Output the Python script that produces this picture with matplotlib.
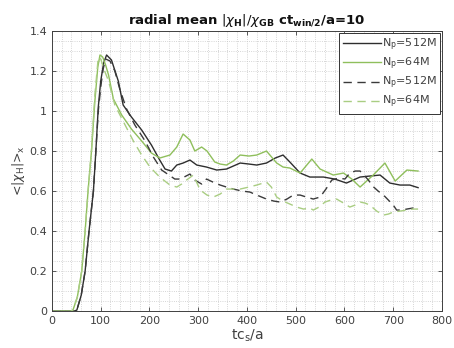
import matplotlib
matplotlib.use("Agg")
import matplotlib.pyplot as plt
from matplotlib.ticker import MultipleLocator

plt.rcParams['mathtext.fontset'] = 'dejavusans'
plt.rcParams['font.family'] = ['DejaVu Sans']

# N_p=512M, solid
x_bs = [0, 45, 51, 60, 68, 76, 85, 90, 95, 100, 106, 112, 122, 136, 146, 163, 184, 204, 221, 232,
        245, 256, 269, 283, 297, 317, 338, 358, 372, 386, 404, 420, 440, 458, 474, 488, 509, 529,
        557, 580, 604, 632, 652, 673, 693, 714, 734, 751]
y_bs = [0, 0, 0.005, 0.08, 0.2, 0.4, 0.6, 0.8, 1.02, 1.15, 1.24, 1.28, 1.255, 1.15, 1.03, 0.97,
        0.905, 0.83, 0.755, 0.71, 0.70, 0.73, 0.74, 0.755, 0.73, 0.72, 0.705, 0.71, 0.725, 0.74,
        0.735, 0.73, 0.74, 0.765, 0.78, 0.745, 0.69, 0.67, 0.67, 0.66, 0.64, 0.67, 0.675, 0.68,
        0.64, 0.63, 0.63, 0.617]

# N_p=64M, solid
x_gs = [0, 38, 43, 52, 61, 68, 74, 81, 88, 94, 98.5, 104, 110, 116, 126, 143, 163, 184, 204, 221,
        242, 256, 269, 283, 293, 307, 318, 334, 345, 358, 372, 386, 404, 420, 440, 461, 474, 488,
        509, 533, 550, 577, 598, 615, 632, 659, 683, 704, 728, 751]
y_gs = [0, 0, 0.005, 0.07, 0.2, 0.4, 0.6, 0.8, 1.05, 1.22, 1.28, 1.27, 1.23, 1.18, 1.06, 0.98,
        0.91, 0.85, 0.79, 0.765, 0.78, 0.82, 0.885, 0.855, 0.80, 0.82, 0.80, 0.745, 0.735, 0.73,
        0.75, 0.78, 0.775, 0.78, 0.80, 0.74, 0.72, 0.715, 0.69, 0.76, 0.71, 0.68, 0.69, 0.66, 0.62,
        0.68, 0.74, 0.65, 0.705, 0.70]

# N_p=512M, dashed
x_bd = [0, 45, 51, 60, 68, 76, 85, 90, 95, 100, 105, 110, 119, 129, 139, 153, 170, 191, 208, 225,
        240, 252, 263, 275, 283, 293, 307, 317, 330, 345, 358, 372, 390, 406, 420, 440, 455, 468,
        482, 495, 509, 522, 536, 550, 562, 574, 588, 601, 611, 622, 632, 640, 649, 660, 669, 680,
        690, 700, 707, 718, 728, 740, 751]
y_bd = [0, 0, 0.005, 0.08, 0.2, 0.4, 0.6, 0.8, 1.0, 1.12, 1.21, 1.26, 1.25, 1.2, 1.11, 1.01, 0.93,
        0.85, 0.77, 0.705, 0.68, 0.66, 0.66, 0.675, 0.685, 0.655, 0.635, 0.66, 0.645, 0.63, 0.62,
        0.61, 0.60, 0.595, 0.58, 0.56, 0.55, 0.545, 0.56, 0.58, 0.58, 0.57, 0.56, 0.57, 0.61,
        0.655, 0.665, 0.66, 0.69, 0.70, 0.70, 0.68, 0.655, 0.62, 0.60, 0.58, 0.555, 0.53, 0.505,
        0.505, 0.51, 0.515, 0.515]

# N_p=64M, dashed
x_gd = [0, 38, 43, 52, 61, 68, 74, 81, 88, 95, 100, 108, 116, 129, 150, 167, 184, 201, 221, 242,
        256, 266, 276, 290, 304, 318, 331, 345, 358, 372, 386, 404, 420, 440, 450, 461, 474, 488,
        502, 516, 529, 536, 548, 560, 572, 584, 598, 611, 622, 632, 642, 652, 666, 680, 690, 700,
        714, 728, 740, 751]
y_gd = [0, 0, 0.005, 0.07, 0.2, 0.4, 0.6, 0.8, 1.08, 1.27, 1.26, 1.2, 1.15, 1.03, 0.93, 0.85, 0.78,
        0.72, 0.67, 0.63, 0.62, 0.635, 0.655, 0.68, 0.605, 0.58, 0.57, 0.585, 0.61, 0.61, 0.61,
        0.62, 0.63, 0.645, 0.62, 0.57, 0.55, 0.535, 0.52, 0.51, 0.515, 0.505, 0.52, 0.545, 0.555,
        0.56, 0.54, 0.52, 0.53, 0.545, 0.54, 0.53, 0.50, 0.48, 0.485, 0.495, 0.50, 0.505, 0.51,
        0.51]

labels = [r'N$_\mathrm{p}$=512M', r'N$_\mathrm{p}$=64M', r'N$_\mathrm{p}$=512M', r'N$_\mathrm{p}$=64M']
yticks = [0, 0.2, 0.4, 0.6, 0.8, 1.0, 1.2, 1.4]
yticklabels = ['0', '0.2', '0.4', '0.6', '0.8', '1', '1.2', '1.4']
xticks = [0, 100, 200, 300, 400, 500, 600, 700, 800]

fig = plt.figure(figsize=(4.54, 3.48), dpi=100)
ax = fig.add_axes([0.1145, 0.106, 0.859, 0.805])

ax.plot(x_bs, y_bs, color='#2e2e2e', lw=1.0, label=labels[0])
ax.plot(x_gs, y_gs, color='#8fbf5c', lw=1.0, label=labels[1])
ax.plot(x_bd, y_bd, color='#3a3a3a', lw=1.0, ls=(0, (6, 4)), label=labels[2])
ax.plot(x_gd, y_gd, color='#a9cd82', lw=1.0, ls=(0, (6, 4)), label=labels[3])

ax.set_xlim(0, 800)
ax.set_ylim(0, 1.4)
ax.set_xticks(xticks)
ax.set_yticks(yticks)
ax.set_yticklabels(yticklabels)
ax.xaxis.set_minor_locator(MultipleLocator(20))
ax.yaxis.set_minor_locator(MultipleLocator(0.05))
ax.grid(which='both', color='#c8c8c8', ls=':', lw=0.6)
ax.tick_params(which='major', direction='in', top=True, right=True, length=3,
               labelsize=8, colors='#404040', width=0.6)
ax.tick_params(which='minor', length=0)
for s in ax.spines.values():
    s.set_color('#404040')
    s.set_linewidth(0.7)

ax.set_title(r'radial mean $|\chi_{\mathbf{H}}|/\chi_{\mathbf{GB}}$ ct$_{\mathbf{win/2}}$/a=10',
             fontsize=9.5, fontweight='bold', color='#111111', pad=5)
ax.set_xlabel(r'tc$_\mathrm{s}$/a', fontsize=10, color='#404040', labelpad=1)
ax.set_ylabel(r'<|$\chi_\mathrm{H}$|>$_\mathrm{x}$', fontsize=9, color='#404040', labelpad=2)

leg = ax.legend(loc='upper right', fontsize=8, handlelength=3.4, handletextpad=0.1,
                labelspacing=0.25, borderaxespad=0.2, fancybox=False, framealpha=1,
                borderpad=0.3)
leg.get_frame().set_edgecolor('#333333')
leg.get_frame().set_linewidth(0.7)
for t in leg.get_texts():
    t.set_color('#404040')

fig.savefig('out.png', dpi=100)
